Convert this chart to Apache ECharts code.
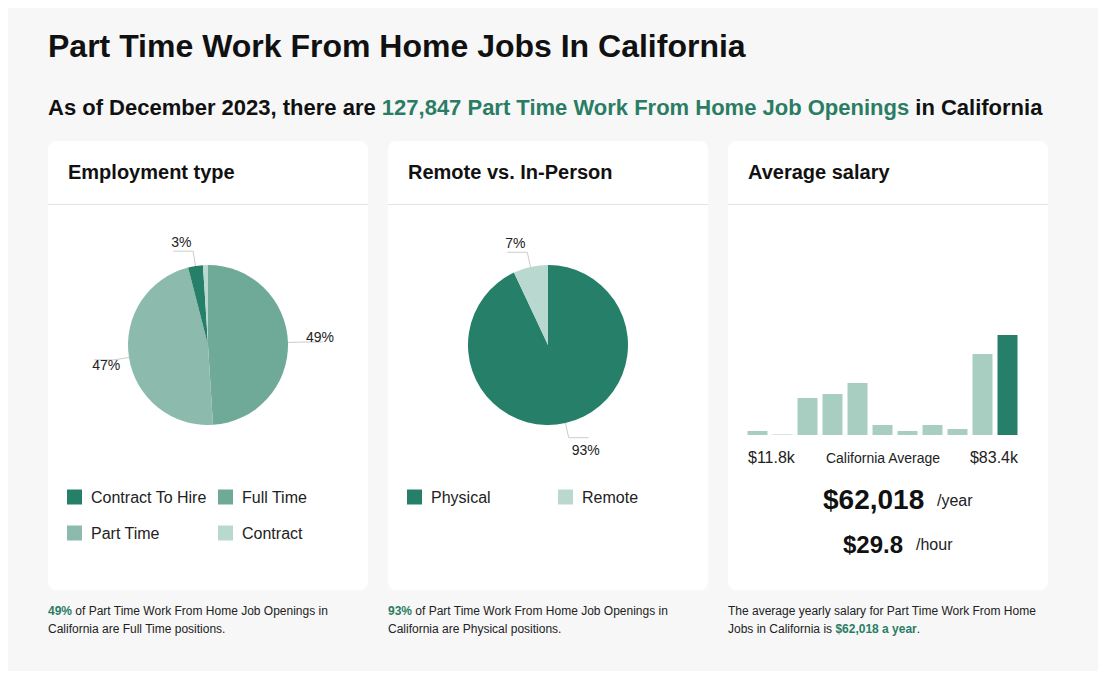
<!DOCTYPE html>
<html><head><meta charset="utf-8">
<script src="https://cdn.jsdelivr.net/npm/echarts@6/dist/echarts.min.js"></script>
<style>html,body{margin:0;padding:0;background:#fff}#c{width:1110px;height:695px}</style>
</head><body><div id="c"></div>
<script>
const pageTitle = 'Part Time Work From Home Jobs In California';
const subtitleParts = ['As of December 2023, there are ', '127,847 Part Time Work From Home Job Openings', ' in California'];
const cardTitles = ['Employment type', 'Remote vs. In-Person', 'Average salary'];
const employmentTypes = ['Full Time', 'Part Time', 'Contract To Hire', 'Contract'];
const employmentValues = [49, 47, 3, 1];
const workModes = ['Physical', 'Remote'];
const workModeValues = [93, 7];
const salaryBins = ['1','2','3','4','5','6','7','8','9','10','11'];
const salaryBinValues = [4, 0.5, 37, 41, 52, 10, 4, 10, 6, 81, 100];
const salaryRangeLabels = ['$11.8k', 'California Average', '$83.4k'];
const salaryYear = '$62,018';
const salaryHour = '$29.8';
const footers = [
  ['49%', ' of Part Time Work From Home Job Openings in', 'California are Full Time positions.'],
  ['93%', ' of Part Time Work From Home Job Openings in', 'California are Physical positions.'],
  ['', 'The average yearly salary for Part Time Work From Home', 'Jobs in California is ', '$62,018 a year', '.']
];

const GREEN = '#2a7d64';
const FONT = '"Liberation Sans", Arial, Helvetica, sans-serif';
const colorsEmp = {'Contract To Hire':'#267f68','Full Time':'#6faa99','Part Time':'#8cbaad','Contract':'#b9d8cf'};
const colorsMode = {'Physical':'#267f68','Remote':'#b9d8cf'};

const chart = echarts.init(document.getElementById('c'), null, {renderer:'svg'});

const graphics = [];
graphics.push({type:'rect', shape:{x:8,y:8,width:1090,height:663}, style:{fill:'#f7f7f7'}, z:-10});
const cardX = [48, 388, 728];
cardX.forEach((x,i)=>{
  graphics.push({type:'rect', shape:{x:x,y:141,width:320,height:449,r:8}, style:{fill:'#fff'}, z:-5});
  graphics.push({type:'line', shape:{x1:x,y1:204.5,x2:x+320,y2:204.5}, style:{stroke:'#e3e3e3',lineWidth:1}, z:-4});
  graphics.push({type:'text', x:x+20, y:172, style:{text:cardTitles[i], font:'bold 20px '+FONT, fill:'#111', verticalAlign:'middle'}});
});
graphics.push({type:'text', x:48, y:46, style:{text:pageTitle, font:'bold 32px '+FONT, fill:'#111', verticalAlign:'middle'}});
graphics.push({type:'text', x:48, y:107, style:{
  text:'{a|'+subtitleParts[0]+'}{g|'+subtitleParts[1]+'}{a|'+subtitleParts[2]+'}',
  verticalAlign:'middle',
  rich:{a:{font:'bold 22px '+FONT, fill:'#111'}, g:{font:'bold 22px '+FONT, fill:GREEN}}
}});
// salary texts
graphics.push({type:'text', x:748, y:457, style:{text:salaryRangeLabels[0], font:'16px '+FONT, fill:'#222', verticalAlign:'middle'}});
graphics.push({type:'text', x:883, y:458, style:{text:salaryRangeLabels[1], font:'14px '+FONT, fill:'#222', align:'center', verticalAlign:'middle'}});
graphics.push({type:'text', x:1018, y:457, style:{text:salaryRangeLabels[2], font:'16px '+FONT, fill:'#222', align:'right', verticalAlign:'middle'}});
graphics.push({type:'text', x:823, y:499, style:{text:salaryYear, font:'bold 28px '+FONT, fill:'#111', verticalAlign:'middle'}});
graphics.push({type:'text', x:937, y:500, style:{text:'/year', font:'16px '+FONT, fill:'#222', verticalAlign:'middle'}});
graphics.push({type:'text', x:843, y:544, style:{text:salaryHour, font:'bold 24px '+FONT, fill:'#111', verticalAlign:'middle'}});
graphics.push({type:'text', x:916, y:544, style:{text:'/hour', font:'16px '+FONT, fill:'#222', verticalAlign:'middle'}});
// footers
footers.forEach((f,i)=>{
  let txt;
  if (i<2) txt = '{g|'+f[0]+'}{n|'+f[1]+'}\n{n|'+f[2]+'}';
  else txt = '{n|'+f[1]+'}\n{n|'+f[2]+'}{g|'+f[3]+'}{n|'+f[4]+'}';
  graphics.push({type:'text', x:cardX[i], y:602, style:{text:txt,
    rich:{n:{font:'12px '+FONT, fill:'#222', lineHeight:18}, g:{font:'bold 12px '+FONT, fill:GREEN, lineHeight:18}}}});
});

const legendBase = {orient:'vertical', icon:'rect', itemWidth:15, itemHeight:15, itemGap:20, padding:0,
  textStyle:{fontSize:16, color:'#222', fontFamily:FONT, padding:[0,0,0,4]}, selectedMode:false};

// place label text over the end of its leader line
function pieLabelLayout(params) {
  const pts = params.labelLinePoints;
  if (!pts) return {};
  const r = params.labelRect;
  const isLeft = pts[2][0] < pts[1][0];
  const vx = pts[1][0] - pts[0][0], vy = pts[1][1] - pts[0][1];
  const len = Math.sqrt(vx * vx + vy * vy) || 1;
  const c = Math.abs(vy) / len;
  const upper = vy < 0;
  const endX = pts[2][0], endY = pts[2][1];
  const targetX = isLeft ? endX - 2 : endX + 11 - r.width;
  const targetCy = upper ? endY - (4.5 + 5 * c) : endY + (4 + 8 * c);
  return {dx: targetX - r.x, dy: targetCy - (r.y + r.height / 2), labelLinePoints: pts};
}

chart.setOption({
  animation:false,
  textStyle:{fontFamily:FONT},
  graphic:graphics,
  legend:[
    Object.assign({}, legendBase, {left:67, top:489, data:['Contract To Hire','Part Time']}),
    Object.assign({}, legendBase, {left:218, top:489, data:['Full Time','Contract']}),
    Object.assign({}, legendBase, {left:407, top:489, data:['Physical']}),
    Object.assign({}, legendBase, {left:558, top:489, data:['Remote']})
  ],
  grid:{left:745, top:335, width:275, height:100},
  xAxis:{type:'category', data:salaryBins, show:false},
  yAxis:{type:'value', min:0, max:100, show:false},
  series:[
    {type:'pie', center:[208,345], radius:80, startAngle:90, clockwise:true,
     data: employmentTypes.map((n,i)=>({name:n, value:employmentValues[i], itemStyle:{color:colorsEmp[n]},
        label:{show: employmentValues[i] >= 2}, labelLine:{show: employmentValues[i] >= 2}})),
     label:{formatter:p=>p.value+'%', fontSize:14, color:'#222', fontFamily:FONT},
     labelLine:{length:15, length2:20, lineStyle:{color:'#ccc', width:1}},
     labelLayout: pieLabelLayout,
     emphasis:{disabled:true}},
    {type:'pie', center:[548,345], radius:80, startAngle:90, clockwise:true,
     data: workModes.map((n,i)=>({name:n, value:workModeValues[i], itemStyle:{color:colorsMode[n]}})),
     label:{formatter:p=>p.value+'%', fontSize:14, color:'#222', fontFamily:FONT},
     labelLine:{length:15, length2:20, lineStyle:{color:'#ccc', width:1}},
     labelLayout: pieLabelLayout,
     emphasis:{disabled:true}},
    {type:'bar', data: salaryBinValues.map((v,i)=>({value:v, itemStyle:{color: i===salaryBinValues.length-1 ? '#267f68' : '#a8cec2'}})),
     barCategoryGap:'20%', emphasis:{disabled:true}}
  ]
});
</script></body></html>
